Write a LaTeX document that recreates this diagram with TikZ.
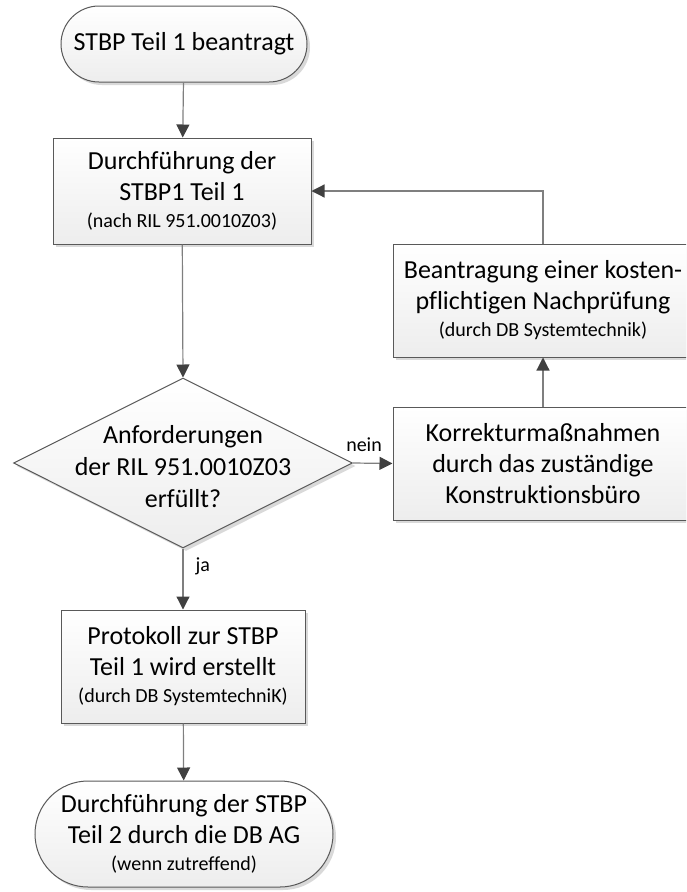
\documentclass[tikz,border=0pt]{standalone}
\usepackage{fontspec}
\setmainfont{Carlito}[Ligatures=NoCommon]
\usetikzlibrary{shapes.geometric,shapes.misc,arrows.meta,shadows}
\definecolor{bordercol}{HTML}{595959}
\definecolor{linecol}{HTML}{7F7F7F}
\definecolor{tipcol}{HTML}{404040}
\definecolor{shadowcol}{HTML}{D9D9D9}
\definecolor{fillbot}{HTML}{EDEDED}
\newcommand\smalltxt[1]{{\fontsize{20}{24}\selectfont #1}}
\begin{document}
\begin{tikzpicture}[x=1pt,y=-1pt,
  base/.style={draw=bordercol, line width=1pt, top color=white, bottom color=fillbot,
    align=center, inner sep=0pt, font=\fontsize{26}{31}\selectfont,
    drop shadow={shadow xshift=3pt, shadow yshift=-3pt, fill=shadowcol, opacity=1}},
  procbox/.style={base, rectangle},
  termbox/.style={base, rounded rectangle},
  decbox/.style={base, diamond},
  arr/.style={draw=linecol, line width=1.2pt, -{Triangle[length=13pt,width=13pt,color=tipcol]}},
  lbl/.style={font=\fontsize{20}{24}\selectfont, inner sep=2pt}
]
\useasboundingbox (0,0) rectangle (686,892);
\clip (0,0) rectangle (686,892);

\node[termbox, minimum width=246pt, minimum height=76pt] (start) at (184,44) {STBP Teil 1 beantragt};

\node[procbox, minimum width=258pt, minimum height=106pt] (box1) at (182,191)
  {Durchführung der\\STBP1 Teil 1\\[-4pt]\smalltxt{(nach RIL 951.0010Z03)}};

\node[decbox, minimum width=339pt, minimum height=170pt] (dec) at (183,463) {};
\node[align=center, inner sep=0pt, font=\fontsize{26}{32}\selectfont] (dectext) at (183,467)
  {Anforderungen\\der RIL 951.0010Z03\\erfüllt?};

\node[procbox, minimum width=300pt, minimum height=113pt] (bean) at (543,300.5)
  {Beantragung einer kosten-\\pflichtigen Nachprüfung\\[-4pt]\smalltxt{(durch DB Systemtechnik)}};

\node[procbox, minimum width=300pt, minimum height=113pt] (korr) at (543,463.5)
  {Korrekturmaßnahmen\\durch das zuständige\\Konstruktionsbüro};

\node[procbox, minimum width=244pt, minimum height=113pt] (prot) at (183,666.5)
  {Protokoll zur STBP\\Teil 1 wird erstellt\\[-4pt]\smalltxt{(durch DB SystemtechniK)}};

\node[termbox, minimum width=298pt, minimum height=106pt] (end) at (184,834)
  {Durchführung der STBP\\Teil 2 durch die DB AG\\[-4pt]\smalltxt{(wenn zutreffend)}};

\draw[arr] (start) -- (box1);
\draw[arr] (box1) -- (dec.north);
\draw[arr] (dec.east) -- node[lbl, above=9pt, pos=0.28] {nein} (korr.west);
\draw[arr] (korr) -- (bean);
\draw[arr] (bean.north) |- (box1.east);
\draw[arr] (dec.south) -- node[lbl, right=10pt, pos=0.3] {ja} (prot);
\draw[arr] (prot) -- (end);
\end{tikzpicture}
\end{document}
